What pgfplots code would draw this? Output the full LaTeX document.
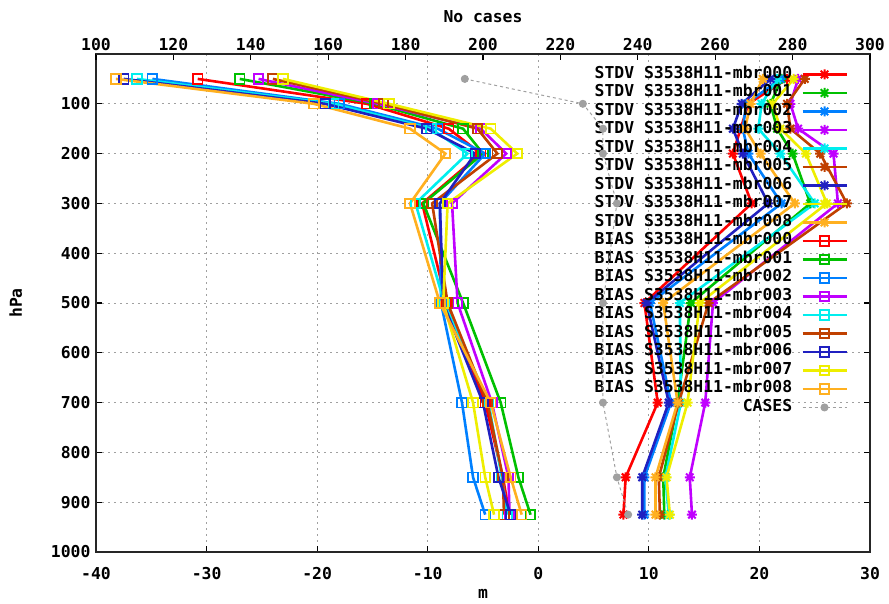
\documentclass[border=0pt]{standalone}
\usepackage{fontspec}
\setmainfont{DejaVu Sans Mono}
\usepackage{pgfplots}
\usepackage{pgfplotstable}
\pgfplotsset{compat=1.18}

\definecolor{c0}{HTML}{FF0000}
\definecolor{c1}{HTML}{00C000}
\definecolor{c2}{HTML}{0080FF}
\definecolor{c3}{HTML}{C000FF}
\definecolor{c4}{HTML}{00EEEE}
\definecolor{c5}{HTML}{C04000}
\definecolor{c6}{HTML}{2020C0}
\definecolor{c7}{HTML}{EEEE00}
\definecolor{c8}{HTML}{FFB020}
\definecolor{cgrey}{HTML}{A0A0A0}

\newcommand{\gp}{\fontsize{16.4}{17}\selectfont\bfseries}

% gnuplot point type 3: + and x together
\pgfdeclareplotmark{gpstar}{%
  \pgfpathmoveto{\pgfqpoint{-\pgfplotmarksize}{0pt}}%
  \pgfpathlineto{\pgfqpoint{\pgfplotmarksize}{0pt}}%
  \pgfpathmoveto{\pgfqpoint{0pt}{-\pgfplotmarksize}}%
  \pgfpathlineto{\pgfqpoint{0pt}{\pgfplotmarksize}}%
  \pgfpathmoveto{\pgfqpoint{-.75\pgfplotmarksize}{-.75\pgfplotmarksize}}%
  \pgfpathlineto{\pgfqpoint{.75\pgfplotmarksize}{.75\pgfplotmarksize}}%
  \pgfpathmoveto{\pgfqpoint{-.75\pgfplotmarksize}{.75\pgfplotmarksize}}%
  \pgfpathlineto{\pgfqpoint{.75\pgfplotmarksize}{-.75\pgfplotmarksize}}%
  \pgfusepathqstroke}

% STDV (m)
\pgfplotstableread{
p   m0   m1   m2   m3   m4   m5   m6   m7   m8
50  22.5 22.0 21.9 23.5 21.6 24.1 21.0 23.1 20.3
100 19.0 21.0 18.8 22.8 20.2 22.5 18.4 21.2 19.2
150 18.3 21.6 18.5 23.5 19.9 22.8 17.6 21.9 18.7
200 17.6 23.0 19.0 26.7 21.9 25.5 18.5 24.2 20.1
300 19.3 24.6 22.0 27.1 25.0 27.9 20.8 26.1 23.2
500 9.6  13.8 10.1 15.8 12.8 15.4 9.8  14.6 11.3
700 10.8 12.6 12.0 15.1 12.9 12.7 11.8 13.5 12.6
850 7.9  11.3 9.6  13.7 11.5 10.9 9.4  11.6 10.6
925 7.7  11.4 9.6  13.9 11.8 11.0 9.4  11.9 10.6
}\stdv

% BIAS (m)
\pgfplotstableread{
p   m0    m1    m2    m3    m4    m5    m6    m7    m8
50  -30.8 -27.0 -34.9 -25.3 -36.3 -24.0 -37.5 -23.1 -38.2
100 -15.5 -14.8 -18.0 -14.5 -18.5 -14.0 -19.3 -13.5 -20.3
150 -8.1  -6.8  -9.1  -5.2  -9.7  -5.5  -10.1 -4.3  -11.6
200 -5.2  -5.0  -4.8  -2.9  -6.4  -3.7  -5.7  -1.9  -8.4
300 -10.5 -10.4 -8.9  -7.8  -11.1 -9.6  -8.9  -8.2  -11.6
500 -8.3  -6.8  -8.8  -7.3  -8.5  -8.2  -8.6  -8.6  -8.9
700 -4.8  -3.4  -6.9  -4.2  -4.5  -4.6  -5.0  -5.9  -4.3
850 -3.2  -1.8  -5.9  -2.7  -3.3  -3.2  -3.6  -4.8  -2.5
925 -2.6  -0.7  -4.8  -2.6  -2.8  -3.1  -2.5  -4.0  -1.5
}\bias

% number of cases
\pgfplotstableread{
p   n
50  195.3
100 225.8
150 231.0
200 231.0
300 234.6
500 231.0
700 231.0
850 234.6
925 237.5
}\cases

\pgfplotsset{
  gpline/.style={
    legend image code/.code={\draw[mark repeat=2,mark phase=2,##1]
      plot coordinates {(0pt,0pt) (22pt,0pt) (44pt,0pt)};}},
  stdv/.style={color=#1, line width=2.6pt, mark=gpstar, mark size=5pt,
    mark options={solid, line width=2pt}, gpline},
  bias/.style={color=#1, line width=2.6pt, mark=square, mark size=4.8pt,
    mark options={solid, line width=1.8pt}, gpline},
  gpaxis/.style={
    scale only axis, width=774pt, height=498pt,
    ymin=0, ymax=1000, y dir=reverse,
    axis line style={line width=1.4pt, black!85},
    every tick/.style={black, line width=1.2pt},
    major tick length=6pt, tick align=inside,
    tick label style={font=\gp}, label style={font=\gp},
    /pgf/number format/assume math mode=true,
    /pgf/number format/set thousands separator={},
  },
}

\begin{document}
\begin{tikzpicture}
\begin{axis}[gpaxis,
  xmin=-40, xmax=30,
  xtick={-40,-30,...,30}, ytick={100,200,...,1000},
  xtick pos=left, ytick pos=both,
  grid=major, grid style={cgrey, dash pattern=on 2pt off 4pt, line width=0.9pt},
  xticklabel style={yshift=-12pt}, yticklabel style={xshift=-2pt},
  xlabel={m}, ylabel={hPa},
  xlabel style={yshift=-3pt}, ylabel style={yshift=22pt},
  legend style={draw=none, fill=none, font=\gp, inner sep=0pt,
    at={(1,1)}, anchor=north east, xshift=-22pt, yshift=-11pt,
    legend cell align=right, column sep=8pt,
    nodes={inner sep=1pt, text height=12pt, text depth=4.5pt}},
  legend plot pos=right,
]
\foreach \k in {0,...,8} {
  \edef\tmp{\noexpand\addplot[stdv=c\k] table[x=m\k, y=p] {\noexpand\stdv};
    \noexpand\addlegendentry{STDV S3538H11-mbr00\k}}
  \tmp
}
\foreach \k in {0,...,8} {
  \edef\tmp{\noexpand\addplot[bias=c\k] table[x=m\k, y=p] {\noexpand\bias};
    \noexpand\addlegendentry{BIAS S3538H11-mbr00\k}}
  \tmp
}
\addlegendimage{cgrey, line width=1pt, dash pattern=on 3pt off 3pt, mark=*,
  mark size=3.5pt, mark options={solid}, gpline}
\addlegendentry{CASES}
\end{axis}
\begin{axis}[gpaxis,
  xmin=100, xmax=300, xtick={100,120,...,300},
  axis x line*=top, hide y axis,
  xlabel={No cases}, xlabel style={yshift=8pt},
]
\addplot[cgrey, line width=1pt, dash pattern=on 3pt off 3pt, mark=*,
  mark size=3.5pt, mark options={solid}] table[x=n, y=p] {\cases};
\end{axis}
\pgfresetboundingbox
\useasboundingbox (-96pt,-52pt) rectangle (793pt,552pt);
\end{tikzpicture}
\end{document}
